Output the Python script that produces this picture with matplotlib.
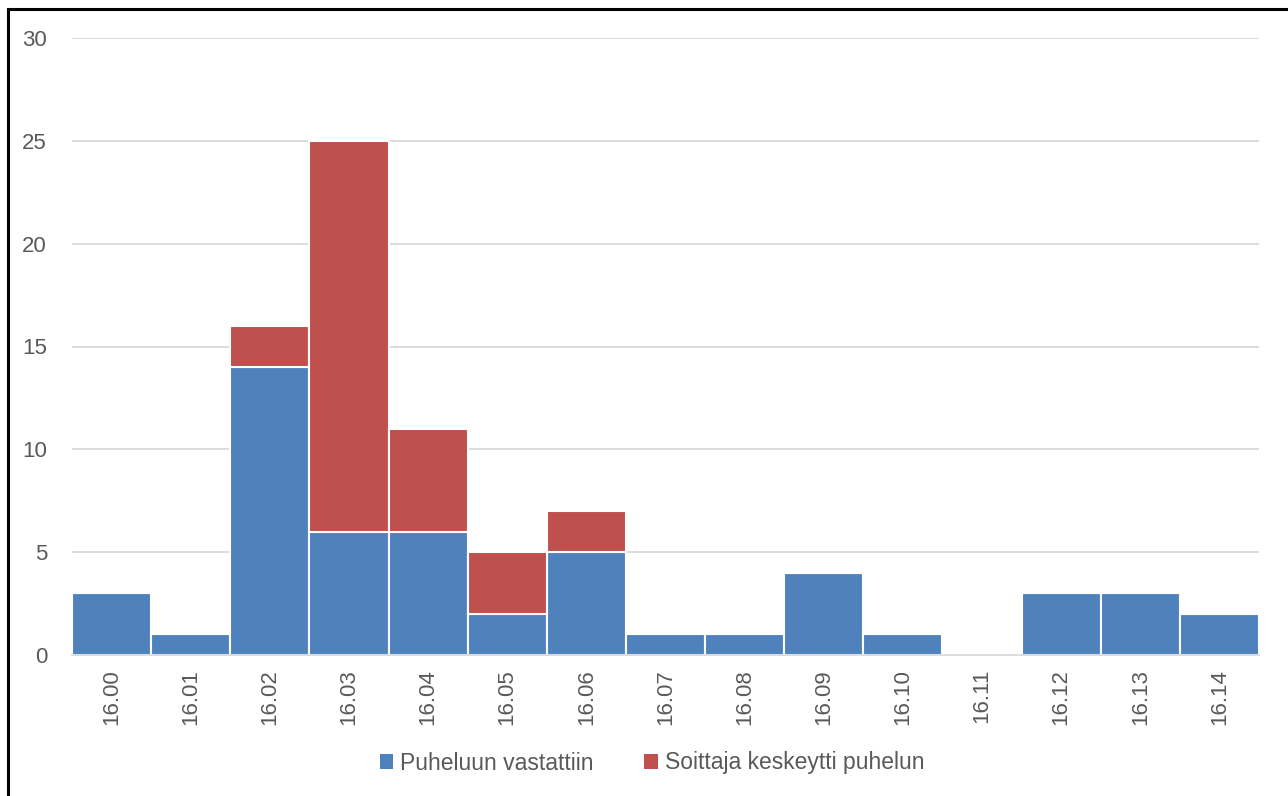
import numpy as np
import matplotlib.pyplot as plt
from matplotlib.patches import Rectangle

# Data
times = ['16.00', '16.01', '16.02', '16.03', '16.04', '16.05', '16.06', '16.07',
         '16.08', '16.09', '16.10', '16.11', '16.12', '16.13', '16.14']
answered = [3, 1, 14, 6, 6, 2, 5, 1, 1, 4, 1, 0, 3, 3, 2]
abandoned = [0, 0, 2, 19, 5, 3, 2, 0, 0, 0, 0, 0, 0, 0, 0]

BLUE = '#4F81BD'
RED = '#C0504D'
TEXT = '#595959'

plt.rcParams['font.family'] = ['Liberation Sans Narrow', 'Liberation Sans', 'DejaVu Sans']

fig = plt.figure(figsize=(12.88, 7.96), dpi=100)
ax = fig.add_axes([72 / 1288, 141 / 796, 1187 / 1288, 617 / 796])

x = np.arange(len(times))
ax.bar(x, answered, width=1.0, color=BLUE, edgecolor='white', linewidth=1.5,
       label='Puheluun vastattiin', zorder=3)
ax.bar(x, abandoned, width=1.0, bottom=answered, color=RED, edgecolor='white',
       linewidth=1.5, label='Soittaja keskeytti puhelun', zorder=3)

ax.set_xlim(-0.5, len(times) - 0.5)
ax.set_ylim(0, 30)
ax.set_yticks(range(0, 31, 5))
ax.set_xticks(x)
ax.set_xticklabels(times, rotation=90)
ax.grid(axis='y', color='#D9D9D9', linewidth=1.3, zorder=0)
ax.tick_params(axis='both', length=0, colors=TEXT, labelsize=16)
ax.tick_params(axis='y', pad=18)
ax.tick_params(axis='x', pad=10)
for s in ['top', 'right', 'left']:
    ax.spines[s].set_visible(False)
ax.spines['bottom'].set_color('#D9D9D9')
ax.spines['bottom'].set_linewidth(1.3)
ax.spines['bottom'].set_zorder(4)

leg = fig.legend(loc='center', bbox_to_anchor=(652 / 1288, 1 - 763 / 796), ncol=2,
                 frameon=False, fontsize=16.5, handlelength=0.6, handleheight=0.6,
                 columnspacing=2.2, handletextpad=0.3)
for t in leg.get_texts():
    t.set_color(TEXT)
for h in leg.legend_handles:
    h.set_edgecolor('none')

# outer frame of the original screenshot
fig.patches.append(Rectangle((8 / 1288, -0.05), 1.1, 1 - 9 / 796 + 0.05,
                             transform=fig.transFigure, fill=False,
                             edgecolor='black', linewidth=2.2))

fig.savefig('out.png', dpi=100)
